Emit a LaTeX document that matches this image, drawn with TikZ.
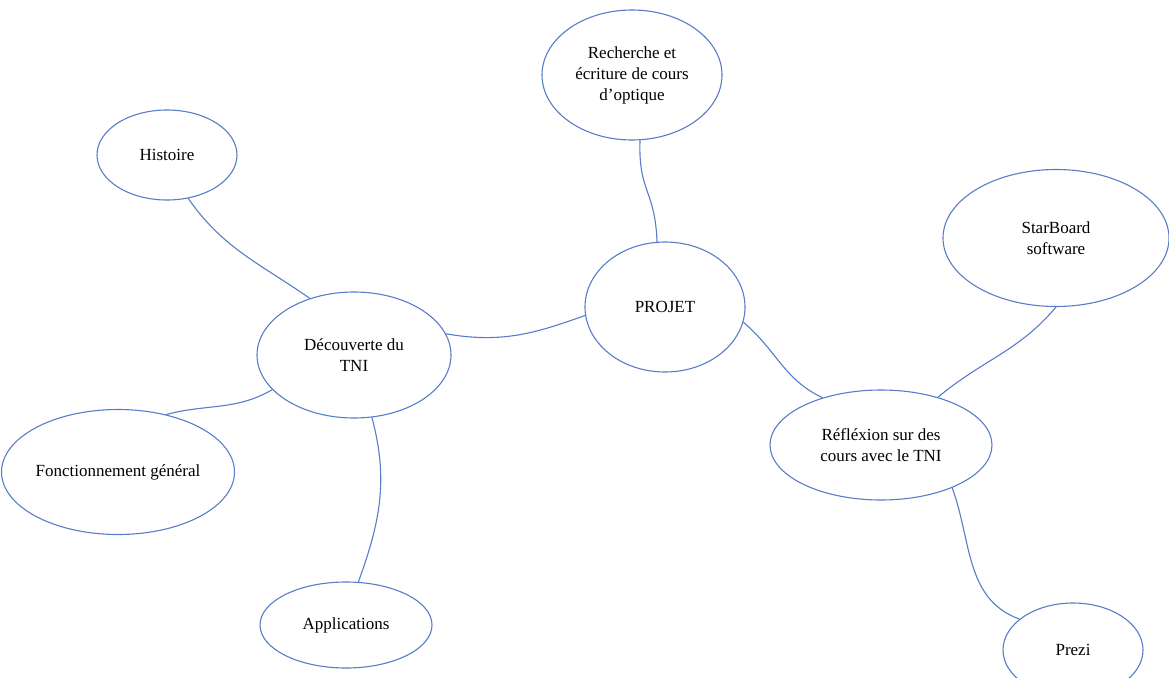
\documentclass[tikz,border=0pt]{standalone}
\usepackage{fontspec}
\setmainfont{Liberation Serif}
\usepackage{tikz}
\usetikzlibrary{shapes}
\definecolor{contour}{RGB}{88,124,200}

\begin{document}
\begin{tikzpicture}[x=1pt,y=-1pt,
    bulle/.style={draw=contour, line width=1.1pt, ellipse, inner sep=0pt, align=center,
        font=\fontsize{17}{21}\selectfont},
    lien/.style={draw=contour, line width=1.1pt}]
    \useasboundingbox (0,0) rectangle (1169,677);

    % les bulles
    \node[bulle, minimum width=180pt, minimum height=130pt] (rech) at (632,75) {Recherche et\\écriture de cours\\d'optique};
    \node[bulle, minimum width=140pt, minimum height=90pt] (hist) at (167,155) {Histoire};
    \node[bulle, minimum width=194pt, minimum height=126pt] (dec) at (354,355) {Découverte du\\TNI};
    \node[bulle, minimum width=160pt, minimum height=130pt] (projet) at (665,307) {PROJET};
    \node[bulle, minimum width=226pt, minimum height=137pt] (star) at (1056,238) {StarBoard\\ software};
    \node[bulle, minimum width=222pt, minimum height=110pt] (refl) at (881,445) {Réfléxion sur des\\cours avec le TNI};
    \node[bulle, minimum width=216pt, minimum height=125pt] (fonct) at (118,472) {Fonctionnement général};
    \node[bulle, minimum width=172pt, minimum height=86pt] (appl) at (346,625) {Applications};
    \node[bulle, minimum width=140pt, minimum height=94pt] (prezi) at (1073,650) {Prezi};

    % les liens
    \draw[lien] (hist.-64) to[out=-55, in=145] (dec.128);
    \draw[lien] (dec.13) to[out=-10, in=200] (projet.186);
    \draw[lien] (dec.203) to[out=210, in=15] (fonct.50);
    \draw[lien] (dec.-74) to[out=-75, in=70] (appl.74);
    \draw[lien] (rech.-83) to[out=-92, in=92, looseness=1.3] (projet.97);
    \draw[lien] (projet.-11) to[out=-40, in=155] (refl.141);
    \draw[lien] (refl.40) to[out=40, in=-130] (star.-90);
    \draw[lien] (refl.-31) to[out=-70, in=160] (prezi.150);
\end{tikzpicture}
\end{document}
